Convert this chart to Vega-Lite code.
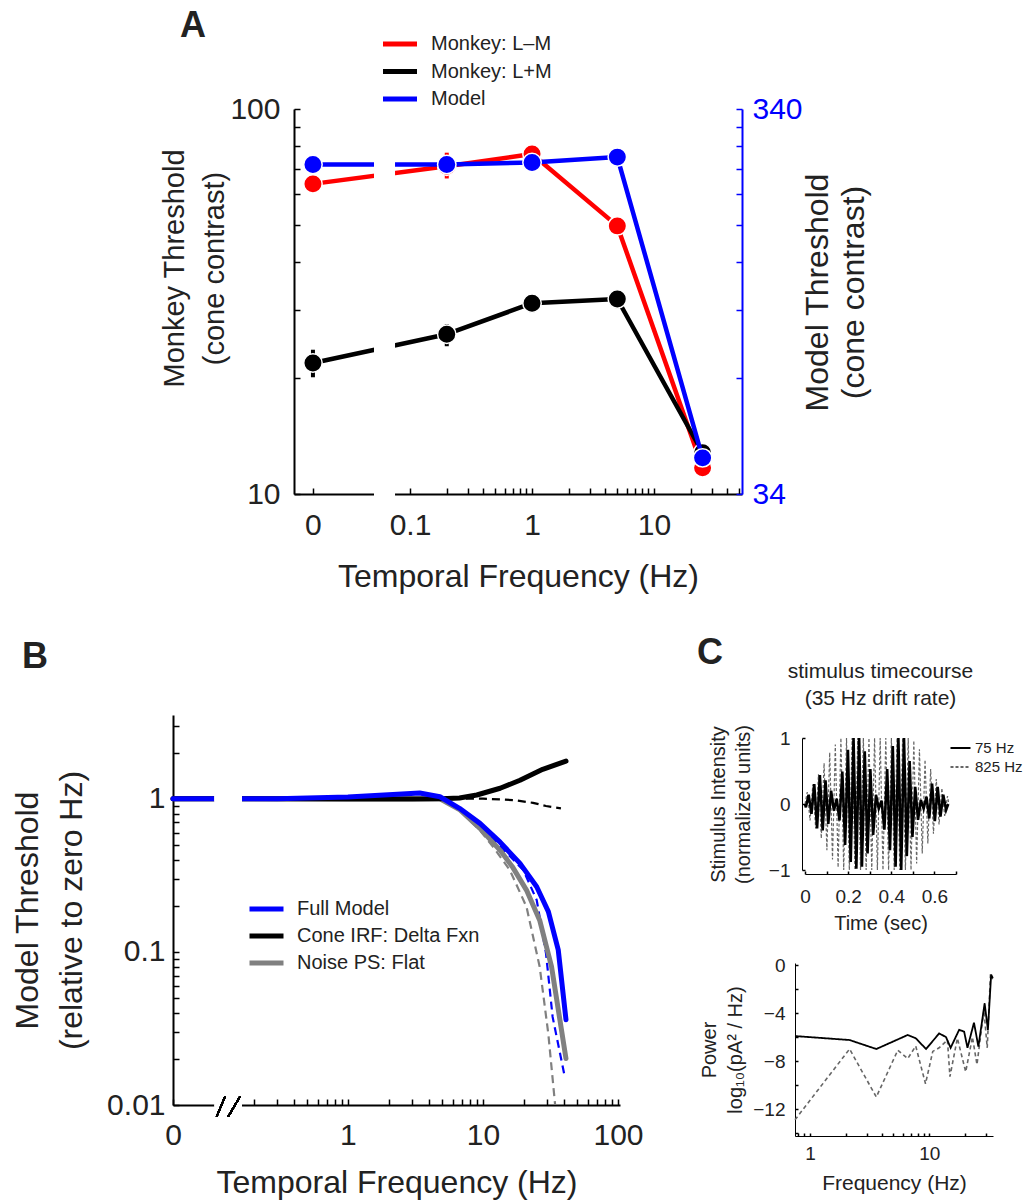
{
  "$schema": "https://vega.github.io/schema/vega-lite/v6.json",
  "width": 1033,
  "height": 1204,
  "padding": 0,
  "autosize": {"type": "none"},
  "background": "white",
  "config": {
    "font": "Liberation Sans",
    "view": {"stroke": null},
    "axis": {"grid": false, "domainColor": "#000", "tickColor": "#000", "domainWidth": 1.5, "tickWidth": 1.5, "labelColor": "#222", "titleColor": "#222", "titleFontWeight": "normal", "labelFlush": false, "labelOverlap": false, "labelFont": "Liberation Sans", "titleFont": "Liberation Sans"},
    "legend": {"labelFont": "Liberation Sans", "labelColor": "#222", "labelLimit": 0},
    "text": {"font": "Liberation Sans", "color": "#222"}
  },
  "layer": [
    {
      "data": {"values": [
        {"series": "Monkey: L–M", "hz": 0, "thr": 63.9, "lo": 62, "hi": 66},
        {"series": "Monkey: L–M", "hz": 0.2, "thr": 71, "lo": 66, "hi": 77},
        {"series": "Monkey: L–M", "hz": 1, "thr": 76.4, "lo": 74.5, "hi": 78.3},
        {"series": "Monkey: L–M", "hz": 5, "thr": 49.7, "lo": 48.5, "hi": 51},
        {"series": "Monkey: L–M", "hz": 25, "thr": 11.7, "lo": 11.4, "hi": 12},
        {"series": "Monkey: L+M", "hz": 0, "thr": 21.9, "lo": 20.1, "hi": 23.7},
        {"series": "Monkey: L+M", "hz": 0.2, "thr": 26.0, "lo": 24.2, "hi": 27.6},
        {"series": "Monkey: L+M", "hz": 1, "thr": 31.3, "lo": 30.5, "hi": 32.1},
        {"series": "Monkey: L+M", "hz": 5, "thr": 32.1, "lo": 31.3, "hi": 32.9},
        {"series": "Monkey: L+M", "hz": 25, "thr": 12.8, "lo": 12.5, "hi": 13.1}
      ]},
      "transform": [{"calculate": "datum.hz === 0 ? 0.016 : datum.hz", "as": "xp"}],
      "layer": [
        {
          "mark": {"type": "line", "strokeWidth": 4.5, "strokeCap": "round", "strokeJoin": "round"},
          "encoding": {
            "x": {"field": "xp", "type": "quantitative", "scale": {"type": "log", "domain": [0.01119, 52.6], "range": [294, 742], "nice": false},
              "axis": {"orient": "bottom", "offset": -710, "values": [0.016, 0.1, 0.2, 0.3, 0.4, 0.5, 0.6, 0.7, 0.8, 0.9, 1, 2, 3, 4, 5, 6, 7, 8, 9, 10, 20, 30, 40, 50],
                "labelExpr": "datum.value < 0.02 ? '0' : datum.value === 0.1 ? '0.1' : datum.value === 1 ? '1' : datum.value === 10 ? '10' : ''",
                "title": "Temporal Frequency (Hz)", "titleFontSize": 32, "labelFontSize": 30, "tickSize": -6, "labelPadding": 22, "titlePadding": 21, "domainWidth": 2}},
            "y": {"field": "thr", "type": "quantitative", "scale": {"type": "log", "domain": [10, 100], "range": [494, 109], "nice": false},
              "axis": {"orient": "left", "offset": -294, "values": [10, 20, 30, 40, 50, 60, 70, 80, 90, 100],
                "labelExpr": "datum.value === 100 ? '100' : datum.value === 10 ? '10' : ''",
                "title": ["Monkey Threshold", "(cone contrast)"], "titleFontSize": 29, "titleLineHeight": 40, "titleAngle": 270, "titleY": 268,
                "labelFontSize": 30, "tickSize": -6, "labelPadding": 20, "titlePadding": 0, "domainWidth": 2}},
            "color": {"field": "series", "type": "nominal",
              "scale": {"domain": ["Monkey: L–M", "Monkey: L+M", "Model"], "range": ["#ff0000", "#000000", "#0000ff"]},
              "legend": {"title": null, "orient": "none", "legendX": 389, "legendY": 33, "symbolType": "M-2,0L2,0", "symbolSize": 289, "symbolStrokeWidth": 5, "labelFontSize": 20, "labelOffset": 20, "rowPadding": 6.5, "padding": 0}}
          }
        },
        {
          "mark": {"type": "rule", "strokeWidth": 4},
          "encoding": {
            "x": {"field": "xp", "type": "quantitative"},
            "y": {"field": "lo", "type": "quantitative"},
            "y2": {"field": "hi"},
            "color": {"field": "series", "type": "nominal", "legend": null}
          }
        },
        {
          "mark": {"type": "point", "filled": true, "size": 340, "stroke": "white", "strokeWidth": 1.5, "opacity": 1},
          "encoding": {
            "x": {"field": "xp", "type": "quantitative"},
            "y": {"field": "thr", "type": "quantitative"},
            "color": {"field": "series", "type": "nominal", "legend": null}
          }
        },
        {
          "data": {"values": [{"label": "A"}]},
          "mark": {"type": "text", "align": "left", "baseline": "alphabetic", "fontSize": 36, "fontWeight": "bold"},
          "encoding": {
            "text": {"field": "label"},
            "x": {"datum": 0.0013015, "type": "quantitative"},
            "y": {"datum": 153.8, "type": "quantitative"}
          }
        }
      ]
    },
    {
      "data": {"values": [
        {"series": "Model", "hz": 0, "thr": 244},
        {"series": "Model", "hz": 0.2, "thr": 244},
        {"series": "Model", "hz": 1, "thr": 247},
        {"series": "Model", "hz": 5, "thr": 255},
        {"series": "Model", "hz": 25, "thr": 42.2}
      ]},
      "transform": [{"calculate": "datum.hz === 0 ? 0.016 : datum.hz", "as": "xp"}],
      "layer": [
        {
          "mark": {"type": "line", "strokeWidth": 4.5, "strokeCap": "round", "strokeJoin": "round"},
          "encoding": {
            "x": {"field": "xp", "type": "quantitative", "scale": {"type": "log", "domain": [0.01119, 52.6], "range": [294, 742], "nice": false}, "axis": null},
            "y": {"field": "thr", "type": "quantitative", "scale": {"type": "log", "domain": [34, 340], "range": [494, 109], "nice": false},
              "axis": {"orient": "right", "offset": -291, "values": [34, 68, 102, 136, 170, 204, 238, 272, 306, 340],
                "labelExpr": "datum.value === 340 ? '340' : datum.value === 34 ? '34' : ''",
                "title": ["Model Threshold", "(cone contrast)"], "titleFontSize": 32, "titleLineHeight": 36, "titleAngle": 270, "titleY": 292,
                "labelFontSize": 30, "tickSize": -6, "labelPadding": 16, "titlePadding": -4, "domainWidth": 2,
                "domainColor": "#0000ff", "tickColor": "#0000ff", "labelColor": "#0000ff"}},
            "color": {"field": "series", "type": "nominal",
              "scale": {"domain": ["Monkey: L–M", "Monkey: L+M", "Model"], "range": ["#ff0000", "#000000", "#0000ff"]}, "legend": null}
          }
        },
        {
          "mark": {"type": "rect", "color": "white"},
          "encoding": {
            "x": {"datum": 0.0507, "type": "quantitative", "axis": null},
            "x2": {"datum": 0.0753},
            "y": {"datum": 33, "type": "quantitative"},
            "y2": {"datum": 340}
          }
        },
        {
          "mark": {"type": "point", "filled": true, "size": 340, "stroke": "white", "strokeWidth": 1.5, "opacity": 1},
          "encoding": {
            "x": {"field": "xp", "type": "quantitative", "axis": null},
            "y": {"field": "thr", "type": "quantitative"},
            "color": {"field": "series", "type": "nominal", "legend": null}
          }
        }
      ]
    },
    {
      "data": {"values": [
        {"m": "Full Model", "s": "solid", "hz": 0, "thr": 1},
        {"m": "Full Model", "s": "solid", "hz": 0.164, "thr": 1},
        {"m": "Full Model", "s": "solid", "hz": 0.3, "thr": 1.0},
        {"m": "Full Model", "s": "solid", "hz": 0.5, "thr": 1.01},
        {"m": "Full Model", "s": "solid", "hz": 1, "thr": 1.025},
        {"m": "Full Model", "s": "solid", "hz": 2.15, "thr": 1.065},
        {"m": "Full Model", "s": "solid", "hz": 3.4, "thr": 1.09},
        {"m": "Full Model", "s": "solid", "hz": 4.8, "thr": 1.03},
        {"m": "Full Model", "s": "solid", "hz": 6.7, "thr": 0.865},
        {"m": "Full Model", "s": "solid", "hz": 9.5, "thr": 0.69},
        {"m": "Full Model", "s": "solid", "hz": 13.4, "thr": 0.52},
        {"m": "Full Model", "s": "solid", "hz": 18.8, "thr": 0.378},
        {"m": "Full Model", "s": "solid", "hz": 25, "thr": 0.266},
        {"m": "Full Model", "s": "solid", "hz": 30.5, "thr": 0.183},
        {"m": "Full Model", "s": "solid", "hz": 36.1, "thr": 0.103},
        {"m": "Full Model", "s": "solid", "hz": 41.2, "thr": 0.036},
        {"m": "Cone IRF: Delta Fxn", "s": "solid", "hz": 0, "thr": 1},
        {"m": "Cone IRF: Delta Fxn", "s": "solid", "hz": 0.164, "thr": 1},
        {"m": "Cone IRF: Delta Fxn", "s": "solid", "hz": 1, "thr": 0.995},
        {"m": "Cone IRF: Delta Fxn", "s": "solid", "hz": 3, "thr": 0.995},
        {"m": "Cone IRF: Delta Fxn", "s": "solid", "hz": 4.9, "thr": 1.0},
        {"m": "Cone IRF: Delta Fxn", "s": "solid", "hz": 6.7, "thr": 1.01},
        {"m": "Cone IRF: Delta Fxn", "s": "solid", "hz": 9, "thr": 1.057},
        {"m": "Cone IRF: Delta Fxn", "s": "solid", "hz": 13.4, "thr": 1.17},
        {"m": "Cone IRF: Delta Fxn", "s": "solid", "hz": 18.8, "thr": 1.32},
        {"m": "Cone IRF: Delta Fxn", "s": "solid", "hz": 27.7, "thr": 1.556},
        {"m": "Cone IRF: Delta Fxn", "s": "solid", "hz": 41.2, "thr": 1.76},
        {"m": "Noise PS: Flat", "s": "solid", "hz": 0, "thr": 1},
        {"m": "Noise PS: Flat", "s": "solid", "hz": 0.164, "thr": 1},
        {"m": "Noise PS: Flat", "s": "solid", "hz": 1, "thr": 1.0},
        {"m": "Noise PS: Flat", "s": "solid", "hz": 3, "thr": 1.0},
        {"m": "Noise PS: Flat", "s": "solid", "hz": 4.8, "thr": 1.0},
        {"m": "Noise PS: Flat", "s": "solid", "hz": 6.7, "thr": 0.85},
        {"m": "Noise PS: Flat", "s": "solid", "hz": 9.5, "thr": 0.64},
        {"m": "Noise PS: Flat", "s": "solid", "hz": 13.4, "thr": 0.46},
        {"m": "Noise PS: Flat", "s": "solid", "hz": 16.5, "thr": 0.36},
        {"m": "Noise PS: Flat", "s": "solid", "hz": 21, "thr": 0.253},
        {"m": "Noise PS: Flat", "s": "solid", "hz": 26.3, "thr": 0.161},
        {"m": "Noise PS: Flat", "s": "solid", "hz": 32.2, "thr": 0.08},
        {"m": "Noise PS: Flat", "s": "solid", "hz": 41.2, "thr": 0.0201},
        {"m": "Full Model", "s": "dashed", "hz": 4.8, "thr": 1.03},
        {"m": "Full Model", "s": "dashed", "hz": 6.7, "thr": 0.86},
        {"m": "Full Model", "s": "dashed", "hz": 9.5, "thr": 0.67},
        {"m": "Full Model", "s": "dashed", "hz": 13.4, "thr": 0.49},
        {"m": "Full Model", "s": "dashed", "hz": 19.9, "thr": 0.342},
        {"m": "Full Model", "s": "dashed", "hz": 25, "thr": 0.218},
        {"m": "Full Model", "s": "dashed", "hz": 29.3, "thr": 0.0977},
        {"m": "Full Model", "s": "dashed", "hz": 32.8, "thr": 0.0376},
        {"m": "Full Model", "s": "dashed", "hz": 40.4, "thr": 0.0152},
        {"m": "Cone IRF: Delta Fxn", "s": "dashed", "hz": 4.8, "thr": 1.0},
        {"m": "Cone IRF: Delta Fxn", "s": "dashed", "hz": 10, "thr": 1.0},
        {"m": "Cone IRF: Delta Fxn", "s": "dashed", "hz": 16.7, "thr": 0.98},
        {"m": "Cone IRF: Delta Fxn", "s": "dashed", "hz": 23.5, "thr": 0.94},
        {"m": "Cone IRF: Delta Fxn", "s": "dashed", "hz": 29.3, "thr": 0.896},
        {"m": "Cone IRF: Delta Fxn", "s": "dashed", "hz": 37.8, "thr": 0.865},
        {"m": "Noise PS: Flat", "s": "dashed", "hz": 4.8, "thr": 1.0},
        {"m": "Noise PS: Flat", "s": "dashed", "hz": 6.7, "thr": 0.84},
        {"m": "Noise PS: Flat", "s": "dashed", "hz": 9.5, "thr": 0.62},
        {"m": "Noise PS: Flat", "s": "dashed", "hz": 12, "thr": 0.48},
        {"m": "Noise PS: Flat", "s": "dashed", "hz": 15.8, "thr": 0.342},
        {"m": "Noise PS: Flat", "s": "dashed", "hz": 21, "thr": 0.197},
        {"m": "Noise PS: Flat", "s": "dashed", "hz": 26.3, "thr": 0.08},
        {"m": "Noise PS: Flat", "s": "dashed", "hz": 30.5, "thr": 0.029},
        {"m": "Noise PS: Flat", "s": "dashed", "hz": 34.2, "thr": 0.0101}
      ]},
      "transform": [{"calculate": "datum.hz === 0 ? 0.0506 : datum.hz", "as": "xp"}],
      "layer": [
        {
          "transform": [{"filter": "datum.s === 'dashed'"}],
          "mark": {"type": "line", "strokeWidth": 2.2, "strokeDash": [8, 5]},
          "encoding": {
            "x": {"field": "xp", "type": "quantitative", "scale": {"type": "log", "domain": [0.0506, 103.5], "range": [173, 620], "nice": false},
              "axis": {"orient": "bottom", "offset": -99, "values": [0.0506, 0.2, 0.3, 0.4, 0.5, 0.6, 0.7, 0.8, 0.9, 1, 2, 3, 4, 5, 6, 7, 8, 9, 10, 20, 30, 40, 50, 60, 70, 80, 90, 100],
                "labelExpr": "datum.value < 0.06 ? '0' : datum.value === 1 ? '1' : datum.value === 10 ? '10' : datum.value === 100 ? '100' : ''",
                "title": "Temporal Frequency (Hz)", "titleFontSize": 32, "labelFontSize": 30, "tickSize": -6, "labelPadding": 21, "titlePadding": 17, "domainWidth": 2}},
            "y": {"field": "thr", "type": "quantitative", "scale": {"type": "log", "domain": [0.01, 3.52], "range": [1105, 715], "nice": false},
              "axis": {"orient": "left", "offset": -173, "values": [0.01, 0.02, 0.03, 0.04, 0.05, 0.06, 0.07, 0.08, 0.09, 0.1, 0.2, 0.3, 0.4, 0.5, 0.6, 0.7, 0.8, 0.9, 1, 2, 3],
                "labelExpr": "datum.value === 0.01 ? '0.01' : datum.value === 0.1 ? '0.1' : datum.value === 1 ? '1' : ''",
                "title": ["Model Threshold", "(relative to zero Hz)"], "titleFontSize": 32, "titleLineHeight": 44, "titleAngle": 270,
                "labelFontSize": 30, "tickSize": -6, "labelPadding": 14, "titlePadding": 18, "domainWidth": 2}},
            "stroke": {"field": "m", "type": "nominal",
              "scale": {"domain": ["Full Model", "Cone IRF: Delta Fxn", "Noise PS: Flat"], "range": ["#0000ff", "#000000", "#808080"]},
              "legend": null}
          }
        },
        {
          "transform": [{"filter": "datum.s === 'solid' && datum.m === 'Noise PS: Flat'"}],
          "mark": {"type": "line", "strokeWidth": 5, "strokeCap": "round", "strokeJoin": "round"},
          "encoding": {
            "x": {"field": "xp", "type": "quantitative"},
            "y": {"field": "thr", "type": "quantitative"},
            "color": {"field": "m", "type": "nominal",
              "scale": {"domain": ["Full Model", "Cone IRF: Delta Fxn", "Noise PS: Flat"], "range": ["#0000ff", "#000000", "#808080"]},
              "legend": {"title": null, "orient": "none", "legendX": 255.5, "legendY": 898, "symbolType": "M-2,0L2,0", "symbolSize": 289, "symbolStrokeWidth": 5, "labelFontSize": 20, "labelOffset": 19.5, "rowPadding": 6, "padding": 0}}
          }
        },
        {
          "transform": [{"filter": "datum.s === 'solid' && datum.m === 'Cone IRF: Delta Fxn'"}],
          "mark": {"type": "line", "strokeWidth": 5, "strokeCap": "round", "strokeJoin": "round"},
          "encoding": {
            "x": {"field": "xp", "type": "quantitative"},
            "y": {"field": "thr", "type": "quantitative"},
            "color": {"field": "m", "type": "nominal"}
          }
        },
        {
          "transform": [{"filter": "datum.s === 'solid' && datum.m === 'Full Model'"}],
          "mark": {"type": "line", "strokeWidth": 5, "strokeCap": "round", "strokeJoin": "round"},
          "encoding": {
            "x": {"field": "xp", "type": "quantitative"},
            "y": {"field": "thr", "type": "quantitative"},
            "color": {"field": "m", "type": "nominal"}
          }
        },
        {
          "mark": {"type": "rect", "color": "white"},
          "encoding": {
            "x": {"datum": 0.1035, "type": "quantitative"},
            "x2": {"datum": 0.164},
            "y": {"datum": 0.0093, "type": "quantitative"},
            "y2": {"datum": 3.52}
          }
        },
        {
          "mark": {"type": "rule", "strokeWidth": 1.5, "color": "#000"},
          "encoding": {
            "x": {"datum": 0.1064, "type": "quantitative"},
            "x2": {"datum": 0.1227},
            "y": {"datum": 0.00839, "type": "quantitative"},
            "y2": {"datum": 0.01133}
          }
        },
        {
          "mark": {"type": "rule", "strokeWidth": 1.5, "color": "#000"},
          "encoding": {
            "x": {"datum": 0.1298, "type": "quantitative"},
            "x2": {"datum": 0.1585},
            "y": {"datum": 0.00839, "type": "quantitative"},
            "y2": {"datum": 0.01133}
          }
        },
        {
          "data": {"values": [{"label": "B"}]},
          "mark": {"type": "text", "align": "left", "baseline": "alphabetic", "fontSize": 36, "fontWeight": "bold"},
          "encoding": {
            "text": {"field": "label"},
            "x": {"datum": 0.003852, "type": "quantitative"},
            "y": {"datum": 7.135, "type": "quantitative"}
          }
        }
      ]
    },
    {
      "data": {"values": [
        {"sig": "75 Hz", "t": 0, "v": 0}, {"sig": "75 Hz", "t": 0.004, "v": -0.05}, {"sig": "75 Hz", "t": 0.017, "v": 0.14}, {"sig": "75 Hz", "t": 0.03, "v": -0.15},
        {"sig": "75 Hz", "t": 0.043, "v": 0.3}, {"sig": "75 Hz", "t": 0.056, "v": -0.37}, {"sig": "75 Hz", "t": 0.069, "v": 0.44}, {"sig": "75 Hz", "t": 0.082, "v": -0.4},
        {"sig": "75 Hz", "t": 0.095, "v": 0.36}, {"sig": "75 Hz", "t": 0.108, "v": -0.3}, {"sig": "75 Hz", "t": 0.121, "v": 0.2}, {"sig": "75 Hz", "t": 0.134, "v": -0.1},
        {"sig": "75 Hz", "t": 0.147, "v": 0.08}, {"sig": "75 Hz", "t": 0.16, "v": -0.25}, {"sig": "75 Hz", "t": 0.173, "v": 0.49}, {"sig": "75 Hz", "t": 0.186, "v": -0.62},
        {"sig": "75 Hz", "t": 0.199, "v": 0.82}, {"sig": "75 Hz", "t": 0.212, "v": -0.88}, {"sig": "75 Hz", "t": 0.225, "v": 1.0}, {"sig": "75 Hz", "t": 0.238, "v": -0.98},
        {"sig": "75 Hz", "t": 0.251, "v": 1.0}, {"sig": "75 Hz", "t": 0.264, "v": -0.95}, {"sig": "75 Hz", "t": 0.277, "v": 0.8}, {"sig": "75 Hz", "t": 0.29, "v": -0.75},
        {"sig": "75 Hz", "t": 0.303, "v": 0.53}, {"sig": "75 Hz", "t": 0.316, "v": -0.47}, {"sig": "75 Hz", "t": 0.329, "v": 0.14}, {"sig": "75 Hz", "t": 0.342, "v": -0.07},
        {"sig": "75 Hz", "t": 0.355, "v": 0.05}, {"sig": "75 Hz", "t": 0.368, "v": -0.39}, {"sig": "75 Hz", "t": 0.381, "v": 0.53}, {"sig": "75 Hz", "t": 0.394, "v": -0.7},
        {"sig": "75 Hz", "t": 0.407, "v": 0.88}, {"sig": "75 Hz", "t": 0.42, "v": -0.95}, {"sig": "75 Hz", "t": 0.433, "v": 1.0}, {"sig": "75 Hz", "t": 0.446, "v": -1.0},
        {"sig": "75 Hz", "t": 0.459, "v": 1.0}, {"sig": "75 Hz", "t": 0.472, "v": -0.79}, {"sig": "75 Hz", "t": 0.485, "v": 0.65}, {"sig": "75 Hz", "t": 0.498, "v": -0.5},
        {"sig": "75 Hz", "t": 0.511, "v": 0.26}, {"sig": "75 Hz", "t": 0.524, "v": -0.24}, {"sig": "75 Hz", "t": 0.537, "v": 0.06}, {"sig": "75 Hz", "t": 0.55, "v": -0.07},
        {"sig": "75 Hz", "t": 0.563, "v": 0.11}, {"sig": "75 Hz", "t": 0.576, "v": -0.22}, {"sig": "75 Hz", "t": 0.589, "v": 0.31}, {"sig": "75 Hz", "t": 0.602, "v": -0.26},
        {"sig": "75 Hz", "t": 0.615, "v": 0.26}, {"sig": "75 Hz", "t": 0.628, "v": -0.19}, {"sig": "75 Hz", "t": 0.641, "v": 0.14}, {"sig": "75 Hz", "t": 0.654, "v": -0.09},
        {"sig": "75 Hz", "t": 0.664, "v": 0.0},
        {"sig": "825 Hz", "t": 0, "v": 0}, {"sig": "825 Hz", "t": 0.0105, "v": 0.18}, {"sig": "825 Hz", "t": 0.0235, "v": -0.25}, {"sig": "825 Hz", "t": 0.0365, "v": 0.3},
        {"sig": "825 Hz", "t": 0.0495, "v": -0.37}, {"sig": "825 Hz", "t": 0.0625, "v": 0.45}, {"sig": "825 Hz", "t": 0.0755, "v": -0.52}, {"sig": "825 Hz", "t": 0.0885, "v": 0.62},
        {"sig": "825 Hz", "t": 0.1015, "v": -0.7}, {"sig": "825 Hz", "t": 0.1145, "v": 0.78}, {"sig": "825 Hz", "t": 0.1275, "v": -0.84}, {"sig": "825 Hz", "t": 0.1405, "v": 0.9},
        {"sig": "825 Hz", "t": 0.1535, "v": -0.96}, {"sig": "825 Hz", "t": 0.1665, "v": 1.0}, {"sig": "825 Hz", "t": 0.1795, "v": -1.0}, {"sig": "825 Hz", "t": 0.1925, "v": 1.0},
        {"sig": "825 Hz", "t": 0.2055, "v": -1.0}, {"sig": "825 Hz", "t": 0.2185, "v": 1.0}, {"sig": "825 Hz", "t": 0.2315, "v": -1.0}, {"sig": "825 Hz", "t": 0.2445, "v": 1.0},
        {"sig": "825 Hz", "t": 0.2575, "v": -1.0}, {"sig": "825 Hz", "t": 0.2705, "v": 1.0}, {"sig": "825 Hz", "t": 0.2835, "v": -1.0}, {"sig": "825 Hz", "t": 0.2965, "v": 1.0},
        {"sig": "825 Hz", "t": 0.3095, "v": -1.0}, {"sig": "825 Hz", "t": 0.3225, "v": 1.0}, {"sig": "825 Hz", "t": 0.3355, "v": -1.0}, {"sig": "825 Hz", "t": 0.3485, "v": 1.0},
        {"sig": "825 Hz", "t": 0.3615, "v": -1.0}, {"sig": "825 Hz", "t": 0.3745, "v": 1.0}, {"sig": "825 Hz", "t": 0.3875, "v": -1.0}, {"sig": "825 Hz", "t": 0.4005, "v": 1.0},
        {"sig": "825 Hz", "t": 0.4135, "v": -1.0}, {"sig": "825 Hz", "t": 0.4265, "v": 1.0}, {"sig": "825 Hz", "t": 0.4395, "v": -1.0}, {"sig": "825 Hz", "t": 0.4525, "v": 1.0},
        {"sig": "825 Hz", "t": 0.4655, "v": -1.0}, {"sig": "825 Hz", "t": 0.4785, "v": 1.0}, {"sig": "825 Hz", "t": 0.4915, "v": -1.0}, {"sig": "825 Hz", "t": 0.5045, "v": 0.96},
        {"sig": "825 Hz", "t": 0.5175, "v": -0.9}, {"sig": "825 Hz", "t": 0.5305, "v": 0.83}, {"sig": "825 Hz", "t": 0.5435, "v": -0.75}, {"sig": "825 Hz", "t": 0.5565, "v": 0.67},
        {"sig": "825 Hz", "t": 0.5695, "v": -0.6}, {"sig": "825 Hz", "t": 0.5825, "v": 0.53}, {"sig": "825 Hz", "t": 0.5955, "v": -0.45}, {"sig": "825 Hz", "t": 0.6085, "v": 0.38},
        {"sig": "825 Hz", "t": 0.6215, "v": -0.31}, {"sig": "825 Hz", "t": 0.6345, "v": 0.24}, {"sig": "825 Hz", "t": 0.6475, "v": -0.18}, {"sig": "825 Hz", "t": 0.6605, "v": 0.12},
        {"sig": "825 Hz", "t": 0.667, "v": 0}
      ]},
      "layer": [
        {
          "transform": [{"filter": "datum.sig === '825 Hz'"}],
          "mark": {"type": "line", "strokeWidth": 1.2},
          "encoding": {
            "x": {"field": "t", "type": "quantitative", "scale": {"domain": [0, 0.7], "range": [805, 956], "nice": false, "zero": false},
              "axis": {"orient": "bottom", "offset": -330, "values": [0, 0.1, 0.2, 0.3, 0.4, 0.5, 0.6, 0.7],
                "labelExpr": "datum.value === 0 ? '0' : datum.value === 0.2 ? '0.2' : datum.value === 0.4 ? '0.4' : datum.value === 0.6 ? '0.6' : ''",
                "title": "Time (sec)", "titleFontSize": 20, "labelFontSize": 19, "tickSize": -3, "labelPadding": 16, "titlePadding": 7, "domainWidth": 1}},
            "y": {"field": "v", "type": "quantitative", "scale": {"domain": [-1, 1], "range": [870, 738], "nice": false},
              "axis": {"orient": "left", "offset": -802, "values": [-1, 0, 1],
                "labelExpr": "datum.value === 1 ? '1' : datum.value === 0 ? '0' : '−1'",
                "title": ["Stimulus Intensity", "(normalized units)"], "titleFontSize": 20, "titleLineHeight": 25, "titleAngle": 270,
                "labelFontSize": 19, "tickSize": -3, "labelPadding": 15, "titlePadding": 15, "domainWidth": 1}},
            "color": {"field": "sig", "type": "nominal", "scale": {"domain": ["75 Hz", "825 Hz"], "range": ["#000000", "#666666"]},
              "legend": {"title": null, "orient": "none", "legendX": 953, "legendY": 740.5, "symbolType": "M-2,0L2,0", "symbolSize": 100, "symbolStrokeWidth": 2, "labelFontSize": 15, "labelOffset": 7, "rowPadding": 3, "padding": 0}},
            "strokeDash": {"field": "sig", "type": "nominal", "scale": {"domain": ["75 Hz", "825 Hz"], "range": [[1, 0], [3, 2]]},
              "legend": {"title": null, "orient": "none", "legendX": 953, "legendY": 740.5, "symbolType": "M-2,0L2,0", "symbolSize": 100, "symbolStrokeWidth": 2, "labelFontSize": 15, "labelOffset": 7, "rowPadding": 3, "padding": 0}}
          }
        },
        {
          "transform": [{"filter": "datum.sig === '75 Hz'"}],
          "mark": {"type": "line", "strokeWidth": 2.6},
          "encoding": {
            "x": {"field": "t", "type": "quantitative"},
            "y": {"field": "v", "type": "quantitative"},
            "color": {"field": "sig", "type": "nominal"},
            "strokeDash": {"field": "sig", "type": "nominal"}
          }
        },
        {
          "data": {"values": [{"label": ["stimulus timecourse", "(35 Hz drift rate)"]}]},
          "mark": {"type": "text", "align": "center", "baseline": "alphabetic", "fontSize": 21, "lineHeight": 27},
          "encoding": {
            "text": {"field": "label"},
            "x": {"datum": 0.35, "type": "quantitative"},
            "y": {"datum": 1.909, "type": "quantitative"}
          }
        },
        {
          "data": {"values": [{"label": "C"}]},
          "mark": {"type": "text", "align": "left", "baseline": "alphabetic", "fontSize": 36, "fontWeight": "bold"},
          "encoding": {
            "text": {"field": "label"},
            "x": {"datum": -0.5007, "type": "quantitative"},
            "y": {"datum": 2.121, "type": "quantitative"}
          }
        }
      ]
    },
    {
      "data": {"values": [
        {"sig": "75 Hz", "f": 0.75, "p": -5.92}, {"sig": "75 Hz", "f": 2.15, "p": -6.25}, {"sig": "75 Hz", "f": 3.6, "p": -7.0},
        {"sig": "75 Hz", "f": 6.6, "p": -5.83}, {"sig": "75 Hz", "f": 7.7, "p": -6.1}, {"sig": "75 Hz", "f": 9.4, "p": -7.0},
        {"sig": "75 Hz", "f": 12.1, "p": -5.7}, {"sig": "75 Hz", "f": 13.8, "p": -6.0}, {"sig": "75 Hz", "f": 15.1, "p": -6.9},
        {"sig": "75 Hz", "f": 17.8, "p": -5.4}, {"sig": "75 Hz", "f": 19.6, "p": -5.55}, {"sig": "75 Hz", "f": 20.9, "p": -6.9},
        {"sig": "75 Hz", "f": 23.7, "p": -4.8}, {"sig": "75 Hz", "f": 25.8, "p": -6.8}, {"sig": "75 Hz", "f": 29.1, "p": -3.2},
        {"sig": "75 Hz", "f": 31, "p": -5.4}, {"sig": "75 Hz", "f": 33.0, "p": -0.8}, {"sig": "75 Hz", "f": 34.1, "p": -1.1},
        {"sig": "825 Hz", "f": 0.75, "p": -12.9}, {"sig": "825 Hz", "f": 2.15, "p": -7.0}, {"sig": "825 Hz", "f": 3.6, "p": -11.0},
        {"sig": "825 Hz", "f": 5.45, "p": -7.1}, {"sig": "825 Hz", "f": 6.6, "p": -7.8}, {"sig": "825 Hz", "f": 7.7, "p": -6.75},
        {"sig": "825 Hz", "f": 9.3, "p": -9.9}, {"sig": "825 Hz", "f": 10.7, "p": -7.2}, {"sig": "825 Hz", "f": 12.1, "p": -6.9},
        {"sig": "825 Hz", "f": 14.2, "p": -6.25}, {"sig": "825 Hz", "f": 14.9, "p": -9.3}, {"sig": "825 Hz", "f": 17.2, "p": -6.1},
        {"sig": "825 Hz", "f": 20.2, "p": -8.9}, {"sig": "825 Hz", "f": 23, "p": -6.0}, {"sig": "825 Hz", "f": 25.1, "p": -8.3},
        {"sig": "825 Hz", "f": 28.7, "p": -3.75}, {"sig": "825 Hz", "f": 30.6, "p": -6.9}, {"sig": "825 Hz", "f": 32.6, "p": -0.7},
        {"sig": "825 Hz", "f": 34.1, "p": -1.25}
      ]},
      "layer": [
        {
          "transform": [{"filter": "datum.sig === '825 Hz'"}],
          "mark": {"type": "line", "strokeWidth": 1.6},
          "encoding": {
            "x": {"field": "f", "type": "quantitative", "scale": {"type": "log", "domain": [0.75, 34.2], "range": [795, 993], "nice": false},
              "axis": {"orient": "bottom", "offset": -68, "values": [0.8, 0.9, 1, 2, 3, 4, 5, 6, 7, 8, 9, 10, 20, 30],
                "labelExpr": "datum.value === 1 ? '1' : datum.value === 10 ? '10' : ''",
                "title": "Frequency (Hz)", "titleFontSize": 21, "labelFontSize": 19, "tickSize": -3, "labelPadding": 11, "titlePadding": 9, "domainWidth": 1}},
            "y": {"field": "p", "type": "quantitative", "scale": {"domain": [-14.25, 0.17], "range": [1136, 963], "nice": false, "zero": false},
              "axis": {"orient": "left", "offset": -795, "values": [-14, -12, -10, -8, -6, -4, -2, 0],
                "labelExpr": "datum.value === 0 ? '0' : datum.value === -4 ? '−4' : datum.value === -8 ? '−8' : datum.value === -12 ? '−12' : ''",
                "title": ["Power", "log₁₀(pA² / Hz)"], "titleFontSize": 20, "titleLineHeight": 26, "titleAngle": 270,
                "labelFontSize": 19, "tickSize": -3, "labelPadding": 13, "titlePadding": 7, "domainWidth": 1}},
            "color": {"field": "sig", "type": "nominal", "scale": {"domain": ["75 Hz", "825 Hz"], "range": ["#000000", "#666666"]}, "legend": null},
            "strokeDash": {"field": "sig", "type": "nominal", "scale": {"domain": ["75 Hz", "825 Hz"], "range": [[1, 0], [4, 3]]}, "legend": null}
          }
        },
        {
          "transform": [{"filter": "datum.sig === '75 Hz'"}],
          "mark": {"type": "line", "strokeWidth": 1.8},
          "encoding": {
            "x": {"field": "f", "type": "quantitative"},
            "y": {"field": "p", "type": "quantitative"},
            "color": {"field": "sig", "type": "nominal", "legend": null},
            "strokeDash": {"field": "sig", "type": "nominal", "legend": null}
          }
        }
      ]
    }
  ],
  "resolve": {"scale": {"x": "independent", "y": "independent", "color": "independent", "strokeDash": "independent"}}
}
